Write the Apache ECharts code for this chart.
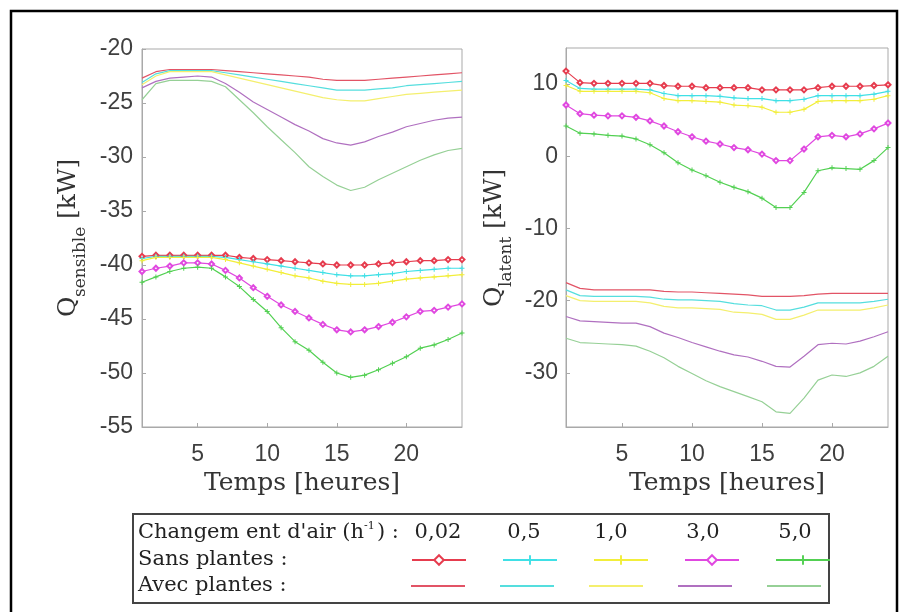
<!DOCTYPE html>
<html><head><meta charset="utf-8">
<script src="https://cdn.jsdelivr.net/npm/echarts@6/dist/echarts.min.js"></script>
<style>html,body{margin:0;padding:0;background:#fff}#c{width:908px;height:612px}</style>
</head><body><div id="c"></div><script>
// ---- data ----
const hours = [1,2,3,4,5,6,7,8,9,10,11,12,13,14,15,16,17,18,19,20,21,22,23,24];
const rateLabels = ['0,02','0,5','1,0','3,0','5,0'];
const xTicks = [5,10,15,20];
const ySensTicks = [-55,-50,-45,-40,-35,-30,-25,-20];
const yLatTicks = [-30,-20,-10,0,10];

// Q sensible, sans plantes
const sensSans002 = [-39.2,-39.1,-39.1,-39.1,-39.1,-39.1,-39.1,-39.3,-39.4,-39.5,-39.6,-39.7,-39.8,-39.9,-40.0,-40.0,-40.0,-39.9,-39.8,-39.7,-39.6,-39.6,-39.5,-39.5];
const sensSans05  = [-39.4,-39.2,-39.2,-39.2,-39.2,-39.2,-39.3,-39.5,-39.7,-39.9,-40.1,-40.3,-40.5,-40.7,-40.9,-41.0,-41.0,-40.9,-40.8,-40.6,-40.5,-40.4,-40.3,-40.3];
const sensSans10  = [-39.6,-39.3,-39.3,-39.3,-39.3,-39.3,-39.5,-39.8,-40.1,-40.4,-40.7,-41.0,-41.2,-41.5,-41.7,-41.8,-41.8,-41.7,-41.5,-41.3,-41.2,-41.1,-41.0,-40.9];
const sensSans30  = [-40.6,-40.3,-40.1,-39.8,-39.8,-39.9,-40.5,-41.2,-42.1,-42.9,-43.7,-44.3,-44.9,-45.5,-46.0,-46.2,-46.0,-45.7,-45.3,-44.8,-44.3,-44.2,-43.9,-43.6];
const sensSans50  = [-41.6,-41.1,-40.6,-40.3,-40.2,-40.3,-41.1,-42.0,-43.2,-44.3,-45.8,-47.1,-47.9,-49.0,-50.0,-50.4,-50.2,-49.7,-49.1,-48.5,-47.7,-47.4,-46.9,-46.3];
// Q sensible, avec plantes
const sensAvec002 = [-22.7,-22.1,-21.9,-21.9,-21.9,-21.9,-22.0,-22.1,-22.2,-22.3,-22.4,-22.5,-22.6,-22.8,-22.9,-22.9,-22.9,-22.8,-22.7,-22.6,-22.5,-22.4,-22.3,-22.2];
const sensAvec05  = [-23.1,-22.3,-22.0,-22.0,-22.0,-22.0,-22.2,-22.4,-22.6,-22.8,-23.0,-23.2,-23.4,-23.6,-23.8,-23.8,-23.8,-23.7,-23.6,-23.4,-23.3,-23.2,-23.1,-23.0];
const sensAvec10  = [-23.3,-22.5,-22.1,-22.1,-22.1,-22.1,-22.4,-22.7,-23.0,-23.3,-23.6,-23.9,-24.2,-24.5,-24.7,-24.8,-24.8,-24.6,-24.4,-24.2,-24.1,-24.0,-23.9,-23.8];
const sensAvec30  = [-23.6,-23.0,-22.7,-22.6,-22.5,-22.6,-23.2,-24.0,-24.9,-25.6,-26.3,-27.0,-27.6,-28.3,-28.7,-28.9,-28.6,-28.1,-27.7,-27.2,-26.9,-26.6,-26.4,-26.3];
const sensAvec50  = [-24.7,-23.2,-22.9,-22.9,-22.9,-23.0,-23.5,-24.7,-25.9,-27.2,-28.4,-29.6,-30.9,-31.8,-32.6,-33.1,-32.8,-32.1,-31.5,-30.9,-30.3,-29.8,-29.4,-29.2];
// Q latent, sans plantes
const latSans002 = [11.8,10.2,10.1,10.1,10.1,10.1,10.1,9.8,9.7,9.7,9.5,9.5,9.5,9.5,9.2,9.2,9.2,9.2,9.5,9.7,9.7,9.7,9.8,9.9];
const latSans05  = [10.5,9.4,9.3,9.3,9.3,9.3,9.2,8.7,8.4,8.4,8.4,8.3,8.1,8.0,8.0,7.7,7.7,7.9,8.4,8.4,8.4,8.4,8.6,9.0];
const latSans10  = [9.8,9.0,9.0,9.0,9.0,9.0,8.8,8.0,7.7,7.7,7.6,7.5,7.1,7.0,6.8,6.1,6.1,6.5,7.6,7.7,7.7,7.7,7.9,8.4];
const latSans30  = [7.1,5.9,5.7,5.6,5.6,5.4,4.9,4.2,3.4,2.7,2.1,1.7,1.2,0.9,0.3,-0.6,-0.6,1.0,2.7,2.9,2.7,3.1,3.8,4.6];
const latSans50  = [4.2,3.2,3.1,2.9,2.8,2.4,1.6,0.5,-0.9,-1.9,-2.7,-3.6,-4.3,-4.9,-5.8,-7.1,-7.1,-5.0,-2.0,-1.6,-1.7,-1.8,-0.6,1.2];
// Q latent, avec plantes
const latAvec002 = [-17.5,-18.3,-18.5,-18.5,-18.5,-18.5,-18.5,-18.7,-18.8,-18.8,-18.9,-19.0,-19.1,-19.2,-19.4,-19.4,-19.4,-19.3,-19.1,-19.0,-19.0,-19.0,-19.0,-19.0];
const latAvec05  = [-18.5,-19.3,-19.4,-19.4,-19.4,-19.4,-19.5,-19.8,-19.9,-19.9,-20.0,-20.1,-20.4,-20.6,-20.7,-21.3,-21.3,-20.9,-20.3,-20.3,-20.3,-20.3,-20.1,-19.8];
const latAvec10  = [-19.3,-20.0,-20.1,-20.1,-20.1,-20.1,-20.3,-20.8,-21.0,-21.0,-21.1,-21.2,-21.6,-21.7,-21.9,-22.6,-22.6,-22.0,-21.3,-21.3,-21.3,-21.3,-21.0,-20.6];
const latAvec30  = [-22.2,-22.8,-22.9,-23.0,-23.1,-23.1,-23.6,-24.5,-25.1,-25.8,-26.4,-27.0,-27.5,-27.8,-28.4,-29.1,-29.2,-27.7,-26.1,-25.9,-26.0,-25.6,-25.0,-24.3];
const latAvec50  = [-25.2,-25.8,-25.9,-26.0,-26.1,-26.3,-27.0,-27.9,-29.1,-30.1,-31.1,-31.9,-32.6,-33.3,-34.0,-35.4,-35.6,-33.5,-31.0,-30.3,-30.5,-30.0,-29.1,-27.7];

// ---- styles ----
const sansColors = ['#e63c4e','#3fe0e6','#f2ee3a','#e048e0','#52d052'];
const avecColors = ['#e25466','#55dede','#f4ef6e','#b070c0','#96d096'];
const plusSym = 'path://M4,0h2v4h4v2h-4v4h-2v-4h-4v-2h4z';
const sansSymbols = ['emptyDiamond', plusSym, plusSym, 'emptyDiamond', plusSym];

const sensSans = [sensSans002,sensSans05,sensSans10,sensSans30,sensSans50];
const sensAvec = [sensAvec002,sensAvec05,sensAvec10,sensAvec30,sensAvec50];
const latSans = [latSans002,latSans05,latSans10,latSans30,latSans50];
const latAvec = [latAvec002,latAvec05,latAvec10,latAvec30,latAvec50];

const pair = arr => hours.map((h,i)=>[h,arr[i]]);
const series = [];
function addSans(arrs, gi){
  arrs.forEach((a,i)=>series.push({
    name:'Sans plantes '+rateLabels[i], type:'line', xAxisIndex:gi, yAxisIndex:gi,
    data:pair(a), symbol:sansSymbols[i], symbolSize:5, showSymbol:true,
    lineStyle:{color:sansColors[i], width:1.2}, itemStyle:{color:sansColors[i]},
    animation:false, silent:true
  }));
}
function addAvec(arrs, gi){
  arrs.forEach((a,i)=>series.push({
    name:'Avec plantes '+rateLabels[i], type:'line', xAxisIndex:gi, yAxisIndex:gi,
    data:pair(a), symbol:'none', showSymbol:false,
    lineStyle:{color:avecColors[i], width:1.2}, itemStyle:{color:avecColors[i]},
    animation:false, silent:true
  }));
}
addAvec(sensAvec,0); addSans(sensSans,0);
addAvec(latAvec,1); addSans(latSans,1);

const axisGray = '#a9a9a9';
const tickFont = {fontFamily:'Liberation Sans, Arial, sans-serif', fontSize:23, color:'#3f3f3f'};
function xAx(gi){
  return {type:'value', gridIndex:gi, min:1, max:24,
    name:'Temps [heures]', nameLocation:'middle', nameGap:41,
    nameTextStyle:{fontFamily:'DejaVu Serif', fontSize:25, color:'#333'},
    axisLine:{show:true, onZero:false, lineStyle:{color:axisGray}},
    axisTick:{show:true, inside:true, length:4, customValues:xTicks, lineStyle:{color:axisGray}},
    axisLabel:{customValues:xTicks, margin:16, ...tickFont},
    splitLine:{show:false}};
}
const titleFont = 'DejaVu Serif';
function yTitle(x, y, sub){
  return {type:'group', x:x, y:y, rotation:Math.PI/2, silent:true, children:[
    {type:'text', x:0, y:0, style:{text:'Q', font:'25px '+titleFont, fill:'#333', verticalAlign:'middle', align:'left'}},
    {type:'text', x:20, y:13, style:{text:sub, font:'17px '+titleFont, fill:'#333', verticalAlign:'middle', align:'left'}},
    {type:'text', x:20 + (sub==='sensible'?70:50) + 8, y:0, style:{text:'[kW]', font:'25px '+titleFont, fill:'#333', verticalAlign:'middle', align:'left'}}
  ]};
}
const legFont = '21px DejaVu Serif';
const legendGraphics = [
  {type:'rect', shape:{x:133, y:514, width:696, height:89}, style:{fill:'none', stroke:'#444', lineWidth:2}, silent:true},
  {type:'text', x:138, y:533, style:{text:'Changem ent d\'air (h', font:legFont, fill:'#222', verticalAlign:'middle'}},
  {type:'text', x:364, y:526, style:{text:'-1', font:'11px DejaVu Serif', fill:'#222', verticalAlign:'middle'}},
  {type:'text', x:377, y:533, style:{text:') :', font:legFont, fill:'#222', verticalAlign:'middle'}},
  {type:'text', x:138, y:560, style:{text:'Sans plantes :', font:legFont, fill:'#222', verticalAlign:'middle'}},
  {type:'text', x:138, y:586, style:{text:'Avec plantes :', font:legFont, fill:'#222', verticalAlign:'middle'}}
];
const colCenters = [438,524,611,703,795];
rateLabels.forEach((t,i)=>legendGraphics.push({type:'text', x:colCenters[i], y:533,
  style:{text:t, font:legFont, fill:'#222', align:'center', verticalAlign:'middle'}}));

const option = {
  backgroundColor:'#fff',
  animation:false,
  grid:[
    {left:142, top:49, width:320, height:378, show:true, borderColor:axisGray, borderWidth:1, backgroundColor:'transparent'},
    {left:566, top:48, width:322, height:379, show:true, borderColor:axisGray, borderWidth:1, backgroundColor:'transparent'}
  ],
  xAxis:[xAx(0), xAx(1)],
  yAxis:[
    {type:'value', gridIndex:0, min:-55, max:-20, interval:5,
     axisLine:{show:true, lineStyle:{color:axisGray}},
     axisTick:{show:true, inside:true, length:4, lineStyle:{color:axisGray}},
     axisLabel:{margin:9, ...tickFont}, splitLine:{show:false}},
    {type:'value', gridIndex:1, min:-37.5, max:15,
     axisLine:{show:true, lineStyle:{color:axisGray}},
     axisTick:{show:true, inside:true, length:4, customValues:yLatTicks, lineStyle:{color:axisGray}},
     axisLabel:{margin:8, customValues:yLatTicks, ...tickFont}, splitLine:{show:false}}
  ],
  legend:[
    {data:rateLabels.map(r=>'Sans plantes '+r), left:411, top:554, orient:'horizontal',
     itemWidth:54, itemHeight:12, itemGap:35, formatter:()=> '', selectedMode:false,
     textStyle:{fontSize:1}, padding:0},
    {data:rateLabels.map(r=>({name:'Avec plantes '+r, icon:'rect'})), left:411, top:585, orient:'horizontal',
     itemWidth:54, itemHeight:2, itemGap:35, formatter:()=> '', selectedMode:false,
     textStyle:{fontSize:1}, padding:0}
  ],
  graphic:[
    {type:'rect', shape:{x:11, y:11, width:886, height:620}, style:{fill:'none', stroke:'#000', lineWidth:2.5}, silent:true},
    yTitle(68, 317, 'sensible'),
    yTitle(494, 307, 'latent'),
    ...legendGraphics
  ],
  series:series
};
const chart = echarts.init(document.getElementById('c'), null, {renderer:'canvas'});
chart.setOption(option);
</script></body></html>
